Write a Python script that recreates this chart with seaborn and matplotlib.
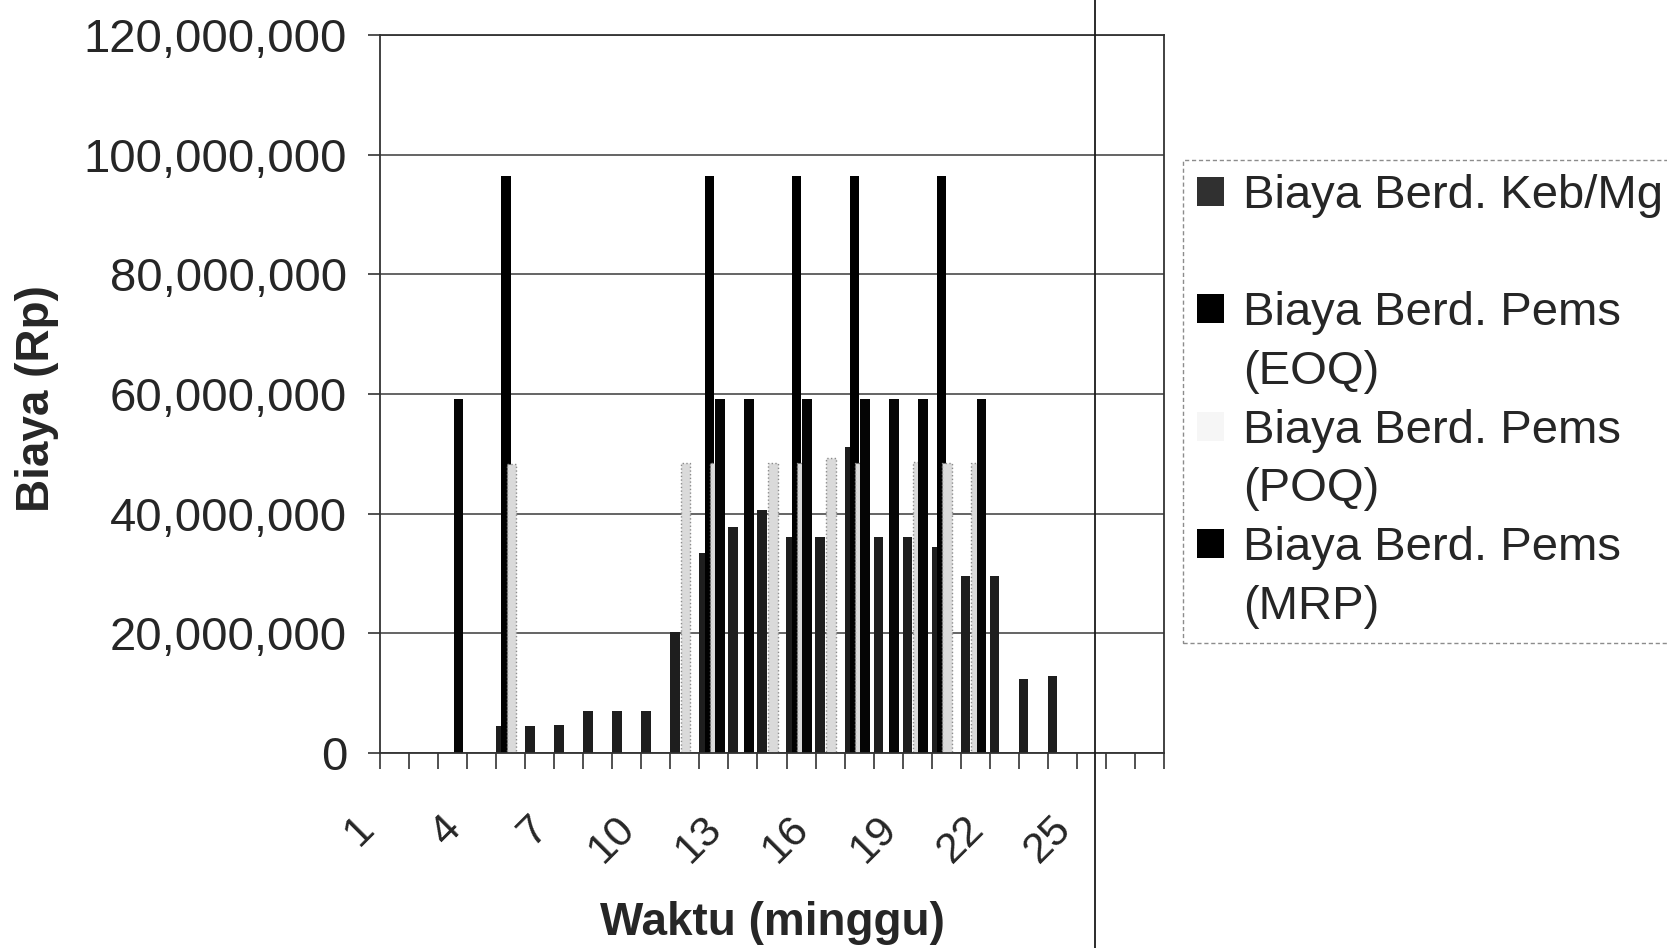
import numpy as np
import pandas as pd
import matplotlib
matplotlib.use("Agg")
import matplotlib.pyplot as plt
import matplotlib.transforms as mtransforms
from matplotlib.patches import Rectangle
from matplotlib.lines import Line2D
from matplotlib.ticker import FuncFormatter
import seaborn as sns

# ---------------- data (Rp) ----------------
weeks = list(range(1, 28))
series_names = ["Biaya Berd. Keb/Mg", "Biaya Berd. Pems (EOQ)",
                "Biaya Berd. Pems (POQ)", "Biaya Berd. Pems (MRP)"]
legend_lines = [["Biaya Berd. Keb/Mg", " "],
                ["Biaya Berd. Pems", "(EOQ)"],
                ["Biaya Berd. Pems", "(POQ)"],
                ["Biaya Berd. Pems", "(MRP)"]]

keb_mg = [0, 0, 0, 0, 4_500_000, 4_500_000, 4_700_000, 7_000_000, 7_000_000, 7_000_000,
          20_200_000, 33_400_000, 37_800_000, 40_600_000, 36_100_000, 36_100_000, 51_100_000,
          36_100_000, 36_100_000, 34_500_000, 29_600_000, 29_600_000, 12_300_000, 12_900_000,
          0, 0, 0]
eoq = [0, 0, 0, 0, 96_500_000, 0, 0, 0, 0, 0,
       0, 96_500_000, 0, 0, 96_500_000, 0, 96_500_000,
       0, 0, 96_500_000, 0, 0, 0, 0,
       0, 0, 0]
poq = [0, 0, 0, 0, 48_300_000, 0, 0, 0, 0, 0,
       48_400_000, 48_400_000, 0, 48_500_000, 48_400_000, 49_300_000, 48_400_000,
       0, 48_600_000, 48_400_000, 48_400_000, 0, 0, 0,
       0, 0, 0]
mrp = [0, 0, 59_200_000, 0, 0, 0, 0, 0, 0, 0,
       0, 59_200_000, 59_200_000, 0, 59_200_000, 0, 59_200_000,
       59_200_000, 59_200_000, 0, 59_200_000, 0, 0, 0,
       0, 0, 0]

y_ticks = [0, 20_000_000, 40_000_000, 60_000_000, 80_000_000, 100_000_000, 120_000_000]
x_tick_labels = ["1", "4", "7", "10", "13", "16", "19", "22", "25"]

colors = ["#1e1e1e", "#000000", "#dadada", "#050505"]
legend_colors = ["#303030", "#000000", "#f6f6f6", "#000000"]

# ---------------- style ----------------
sns.set_style("white")
plt.rcParams["font.family"] = ["Liberation Sans", "DejaVu Sans"]

week_labels = [str(w) for w in weeks]
df = pd.DataFrame({"Minggu": week_labels,
                   series_names[0]: keb_mg, series_names[1]: eoq,
                   series_names[2]: poq, series_names[3]: mrp})
long = df.melt(id_vars="Minggu", var_name="Seri", value_name="Biaya")

W, H = 1667, 948
fig = plt.figure(figsize=(W / 100, H / 100), dpi=100)
ax = fig.add_axes([380 / W, 1 - 753 / H, (1164 - 380) / W, (753 - 35) / H])

sns.barplot(data=long, x="Minggu", y="Biaya", hue="Seri",
            order=week_labels, hue_order=series_names,
            palette=colors, width=0.73, gap=-0.8, dodge=True,
            errorbar=None, legend=False, linewidth=0, ax=ax)

# POQ bars: light with dotted outline
if len(ax.containers) >= 3:
    for p in ax.containers[2]:
        if p.get_height() > 0:
            p.set_edgecolor("#8c8c8c")
            p.set_linewidth(1.0)
            p.set_linestyle(":")

d = 0.065
ax.set_xlim(-0.5 + d, len(weeks) - 0.5 + d)
ax.set_ylim(0, 120_000_000)
ax.set_yticks(y_ticks)
ax.yaxis.set_major_formatter(FuncFormatter(lambda v, p: f"{v:,.0f}"))
ax.yaxis.grid(True, color="#4a4a4a", linewidth=1.2)
ax.xaxis.grid(False)
ax.set_axisbelow(True)

for s in ax.spines.values():
    s.set_visible(True)
    s.set_color("#333333")
    s.set_linewidth(1.3)

# x ticks: boundaries as minor tick marks, labels at category centres
label_pos = [week_labels.index(t) for t in x_tick_labels]
ax.set_xticks(label_pos)
ax.set_xticklabels(x_tick_labels)
ax.set_xticks(np.arange(len(weeks) + 1) - 0.5 + d, minor=True)
ax.tick_params(axis="x", which="major", length=0, pad=50, labelsize=31)
ax.tick_params(axis="x", which="minor", length=11.5, width=1.2, color="#333333",
               direction="out", bottom=True)
offset = mtransforms.ScaledTranslation(-0.25, 0, fig.dpi_scale_trans)
for lbl in ax.get_xticklabels():
    lbl.set_rotation(45)
    lbl.set_ha("right")
    lbl.set_va("center")
    lbl.set_rotation_mode("anchor")
    lbl.set_transform(lbl.get_transform() + offset)

ax.tick_params(axis="y", which="major", length=8.6, width=1.2, color="#333333",
               direction="out", left=True, pad=15, labelsize=34)

ax.set_xlabel("Waktu (minggu)", fontsize=33, fontweight="bold")
ax.xaxis.label.set_va("center")
ax.xaxis.set_label_coords(0.5, (753 - 923) / (753 - 35))
ax.set_ylabel("Biaya (Rp)", fontsize=33, fontweight="bold")
ax.yaxis.label.set_va("center")
ax.yaxis.set_label_coords((37 - 380) / (1164 - 380), (753 - 399) / (753 - 35))

# legend (handle aligned with first line of each entry, like Excel)
handles, labels = [], []
for c, lines in zip(legend_colors, legend_lines):
    handles.append(Rectangle((0, 0), 1, 1, facecolor=c, edgecolor="none"))
    labels.append(lines[0])
    handles.append(Rectangle((0, 0), 1, 1, facecolor="none", edgecolor="none"))
    labels.append(lines[1])
leg = ax.legend(handles, labels, loc="upper left",
                bbox_to_anchor=(1183 / W, 1 - 160 / H), bbox_transform=fig.transFigure,
                fontsize=34, frameon=True, fancybox=False, borderpad=0.3,
                labelspacing=0.31, handlelength=0.57, handleheight=0.57,
                handletextpad=0.4, borderaxespad=0)
fr = leg.get_frame()
fr.set_edgecolor("#707070")
fr.set_linewidth(1.0)
fr.set_linestyle((0, (3, 2)))
fr.set_facecolor("white")

# scanned page edge line
fig.add_artist(Line2D([1095 / W, 1095 / W], [0, 1], transform=fig.transFigure,
                      color="#1a1a1a", linewidth=1.3))

fig.savefig("out.png", dpi=100)
